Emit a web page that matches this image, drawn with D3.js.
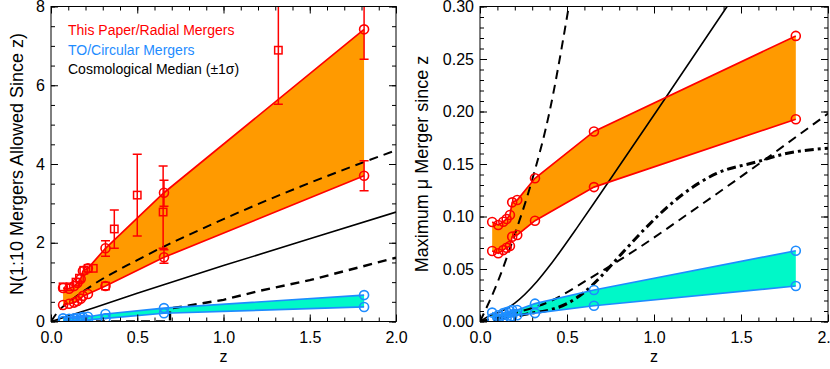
<!DOCTYPE html>
<html>
<head>
<meta charset="utf-8">
<script src="https://cdn.jsdelivr.net/npm/d3@7"></script>
<style>
body { margin: 0; background: #fff; }
text { font-family: "Liberation Sans", Arial, sans-serif; }
</style>
</head>
<body>
<svg width="830" height="369"></svg>
<script>
// redshifts of the model points (shared by both panels)
const zModel = [0.07, 0.105, 0.134, 0.153, 0.172, 0.185, 0.214, 0.316, 0.655, 1.815];

// left panel: N(1:10) mergers
const nRadialUpper = [0.85, 0.83, 0.9, 0.98, 1.08, 1.28, 1.35, 1.86, 3.27, 7.42];
const nRadialLower = [0.42, 0.45, 0.48, 0.52, 0.58, 0.65, 0.7, 0.9, 1.63, 3.70];
const nCircUpper = [0.08, 0.07, 0.08, 0.09, 0.1, 0.11, 0.12, 0.19, 0.34, 0.67];
const nCircLower = [0.01, 0.01, 0.02, 0.02, 0.03, 0.04, 0.04, 0.08, 0.21, 0.37];

// error bars on some model points
const errZ = [0.316, 0.655, 0.655, 1.815, 1.815];
const errLo = [1.66, 2.93, 1.48, 6.66, 3.32];
const errHi = [2.05, 3.59, 1.82, 8.5, 4.08];

// observed points (squares)
const obsZ = [0.07, 0.11, 0.145, 0.165, 0.19, 0.215, 0.245, 0.316, 0.367, 0.5, 0.65, 1.318];
const obsN = [0.88, 0.88, 1.0, 1.1, 1.3, 1.35, 1.35, 0.9, 2.35, 3.21, 2.78, 6.89];
const obsLo = [null, null, null, null, null, null, null, null, 1.86, 2.17, 1.86, 5.52];
const obsHi = [null, null, null, null, null, null, null, null, 2.83, 4.25, 3.95, 8.5];

// cosmological median and +-1 sigma (left)
const zCosmo = [0, 0.05, 0.1, 0.25, 0.5, 1.0, 1.5, 2.0];
const nMedian = [0, 0.07, 0.14, 0.35, 0.72, 1.42, 2.1, 2.78];
const nPlus1 = [0, 0.3, 0.48, 0.95, 1.56, 2.6, 3.52, 4.35];
const zMinus = [0, 0.69, 0.69, 1.0, 1.21, 1.5, 2.0];
const nMinus1 = [0, 0, 0.33, 0.55, 0.78, 1.05, 1.62];

// right panel: maximum mu
const muRadialUpper = [0.0948, 0.0919, 0.095, 0.0976, 0.1014, 0.1135, 0.1157, 0.1364, 0.181, 0.272];
const muRadialLower = [0.0671, 0.065, 0.068, 0.0703, 0.0719, 0.0808, 0.0824, 0.096, 0.128, 0.1926];
const muCircUpper = [0.0085, 0.006, 0.008, 0.009, 0.010, 0.011, 0.011, 0.017, 0.030, 0.0674];
const muCircLower = [0.003, 0.001, 0.002, 0.003, 0.004, 0.005, 0.006, 0.008, 0.015, 0.0338];

const zMuMed = [0, 0.05, 0.134, 0.2, 0.326, 0.4, 0.46, 0.556, 0.69, 1.034, 1.42, 1.5];
const muMedian = [0, 0.005, 0.0106, 0.0175, 0.0378, 0.053, 0.0664, 0.0889, 0.1212, 0.205, 0.30, 0.32];
const zMuPlus = [0, 0.1, 0.2, 0.3, 0.4, 0.5, 0.55];
const muPlus1 = [0, 0.037, 0.083, 0.135, 0.2, 0.29, 0.34];
const zMuMinus = [0, 0.2, 0.4, 0.63, 0.92, 1.2, 1.475, 2.0];
const muMinus1 = [0, 0.008, 0.019, 0.041, 0.071, 0.103, 0.135, 0.198];
const zMuDot = [0, 0.1, 0.19, 0.3, 0.4, 0.5, 0.6, 0.69, 0.8, 0.94, 1.07, 1.26, 1.36, 1.59, 1.76, 2.0];
const muDot = [0, 0.002, 0.0046, 0.008, 0.011, 0.017, 0.028, 0.042, 0.062, 0.087, 0.108, 0.132, 0.141, 0.152, 0.160, 0.165];

const svg = d3.select("svg");
const plotTop = 6.5, plotBottom = 321.5;
const RED = "#ff0000", ORANGE = "#ff9a00", BLUE = "#1e8cff", TEAL = "#00f8c8";

function makePanel(id, x0, x1, yMax, yMajor, yMinor, yFmt) {
    const x = d3.scaleLinear().domain([0, 2]).range([x0, x1]);
    const y = d3.scaleLinear().domain([0, yMax]).range([plotBottom, plotTop]);
    const g = svg.append("g");

    svg.append("clipPath").attr("id", id)
        .append("rect").attr("x", x0).attr("y", plotTop)
        .attr("width", x1 - x0).attr("height", plotBottom - plotTop);

    const xMinor = d3.range(0, 2.0001, 0.1);
    const xMajor = d3.range(0, 2.0001, 0.5);

    const axes = svg.append("g").attr("class", "axes");
    // bottom
    axes.append("g").attr("transform", `translate(0,${plotBottom})`)
        .call(d3.axisBottom(x).tickValues(xMinor).tickSize(-4).tickFormat(""));
    axes.append("g").attr("transform", `translate(0,${plotBottom})`)
        .call(d3.axisBottom(x).tickValues(xMajor).tickSize(-7).tickPadding(10).tickFormat(d3.format(".1f")));
    // top
    axes.append("g").attr("transform", `translate(0,${plotTop})`)
        .call(d3.axisTop(x).tickValues(xMinor).tickSize(-4).tickFormat(""));
    axes.append("g").attr("transform", `translate(0,${plotTop})`)
        .call(d3.axisTop(x).tickValues(xMajor).tickSize(-7).tickFormat(""));
    // left
    axes.append("g").attr("transform", `translate(${x0},0)`)
        .call(d3.axisLeft(y).tickValues(yMinor).tickSize(-4).tickFormat(""));
    axes.append("g").attr("transform", `translate(${x0},0)`)
        .call(d3.axisLeft(y).tickValues(yMajor).tickSize(-7).tickPadding(6).tickFormat(yFmt));
    // right
    axes.append("g").attr("transform", `translate(${x1},0)`)
        .call(d3.axisRight(y).tickValues(yMinor).tickSize(-4).tickFormat(""));
    axes.append("g").attr("transform", `translate(${x1},0)`)
        .call(d3.axisRight(y).tickValues(yMajor).tickSize(-7).tickFormat(""));

    axes.selectAll(".domain").remove();
    axes.selectAll("text")
        .attr("font-size", 16)
        .attr("font-family", "Liberation Sans, Arial, sans-serif")
        .attr("fill", "#000");
    axes.append("rect")
        .attr("x", x0).attr("y", plotTop)
        .attr("width", x1 - x0).attr("height", plotBottom - plotTop)
        .attr("fill", "none").attr("stroke", "#000").attr("stroke-width", 1);

    svg.append("text")
        .attr("x", (x0 + x1) / 2).attr("y", 362)
        .attr("text-anchor", "middle").attr("font-size", 16)
        .text("z");

    return { g: g.attr("clip-path", `url(#${id})`), x, y, axes };
}

function drawBand(p, zs, lo, hi, fill) {
    const rows = zs.map((z, i) => ({ z, lo: lo[i], hi: hi[i] }));
    p.g.append("path").datum(rows)
        .attr("fill", fill)
        .attr("d", d3.area().x(d => p.x(d.z)).y0(d => p.y(d.lo)).y1(d => p.y(d.hi)));
    return rows;
}

function drawEdges(p, rows, stroke) {
    ["lo", "hi"].forEach(k => {
        p.g.append("path").datum(rows)
            .attr("fill", "none").attr("stroke", stroke).attr("stroke-width", 1.7)
            .attr("d", d3.line().x(d => p.x(d.z)).y(d => p.y(d[k])));
        p.g.selectAll(null).data(rows).enter().append("circle")
            .attr("cx", d => p.x(d.z)).attr("cy", d => p.y(d[k])).attr("r", 4.5)
            .attr("fill", "none").attr("stroke", stroke).attr("stroke-width", 1.6);
    });
}

function drawCurve(p, zs, vs, dash, width, curve) {
    p.g.append("path").datum(zs.map((z, i) => [z, vs[i]]))
        .attr("fill", "none").attr("stroke", "#000")
        .attr("stroke-width", width)
        .attr("stroke-dasharray", dash)
        .attr("d", d3.line().x(d => p.x(d[0])).y(d => p.y(d[1])).curve(curve || d3.curveLinear));
}

function errorBars(p, zs, lo, hi) {
    zs.forEach((z, i) => {
        if (lo[i] === null) return;
        const cx = p.x(z);
        p.g.append("line").attr("x1", cx).attr("x2", cx)
            .attr("y1", p.y(lo[i])).attr("y2", p.y(hi[i]))
            .attr("stroke", RED).attr("stroke-width", 1.5);
        [lo[i], hi[i]].forEach(v => {
            p.g.append("line").attr("x1", cx - 4.5).attr("x2", cx + 4.5)
                .attr("y1", p.y(v)).attr("y2", p.y(v))
                .attr("stroke", RED).attr("stroke-width", 1.5);
        });
    });
}

// ---------- left panel ----------
const L = makePanel("clipL", 51, 396, 8, d3.range(0, 8.01, 2), d3.range(0, 8.01, 0.5), d3.format("d"));
const lRed = drawBand(L, zModel, nRadialLower, nRadialUpper, ORANGE);
const lBlue = drawBand(L, zModel, nCircLower, nCircUpper, TEAL);
drawCurve(L, zCosmo, nMedian, null, 1.6);
drawCurve(L, zCosmo, nPlus1, "9,6", 2, d3.curveMonotoneX);
drawCurve(L, zMinus, nMinus1, "9,6", 2.4);
errorBars(L, obsZ, obsLo, obsHi);
errorBars(L, errZ, errLo, errHi);
drawEdges(L, lRed, RED);
drawEdges(L, lBlue, BLUE);
L.g.selectAll(null).data(obsZ).enter().append("rect")
    .attr("x", d => L.x(d) - 3.7).attr("y", (d, i) => L.y(obsN[i]) - 3.7)
    .attr("width", 7.4).attr("height", 7.4)
    .attr("fill", "none").attr("stroke", RED).attr("stroke-width", 1.5);

svg.append("text")
    .attr("transform", "translate(23,164) rotate(-90)")
    .attr("text-anchor", "middle").attr("font-size", 18)
    .text("N(1:10 Mergers Allowed Since z)");

const legend = [
    { t: "This Paper/Radial Mergers", c: RED },
    { t: "TO/Circular Mergers", c: BLUE },
    { t: "Cosmological Median (\u00b11\u03c3)", c: "#000" }
];
svg.selectAll(".legend").data(legend).enter().append("text")
    .attr("class", "legend")
    .attr("x", 68).attr("y", (d, i) => 35 + i * 19.5)
    .attr("font-size", 14).attr("fill", d => d.c)
    .text(d => d.t);

// ---------- right panel ----------
const R = makePanel("clipR", 480, 828, 0.30, d3.range(0, 0.3001, 0.05), d3.range(0, 0.3001, 0.01), d3.format(".2f"));
const rRed = drawBand(R, zModel, muRadialLower, muRadialUpper, ORANGE);
const rBlue = drawBand(R, zModel, muCircLower, muCircUpper, TEAL);
drawCurve(R, zMuMed, muMedian, null, 1.6, d3.curveMonotoneX);
drawCurve(R, zMuPlus, muPlus1, "9,6", 2, d3.curveMonotoneX);
drawCurve(R, zMuMinus, muMinus1, "9,6", 2, d3.curveMonotoneX);
drawCurve(R, zMuDot, muDot, "9,4,3,4", 3, d3.curveMonotoneX);
drawEdges(R, rRed, RED);
drawEdges(R, rBlue, BLUE);

svg.append("text")
    .attr("transform", "translate(428,164) rotate(-90)")
    .attr("text-anchor", "middle").attr("font-size", 18)
    .text("Maximum \u03bc Merger since z");
</script>
</body>
</html>
